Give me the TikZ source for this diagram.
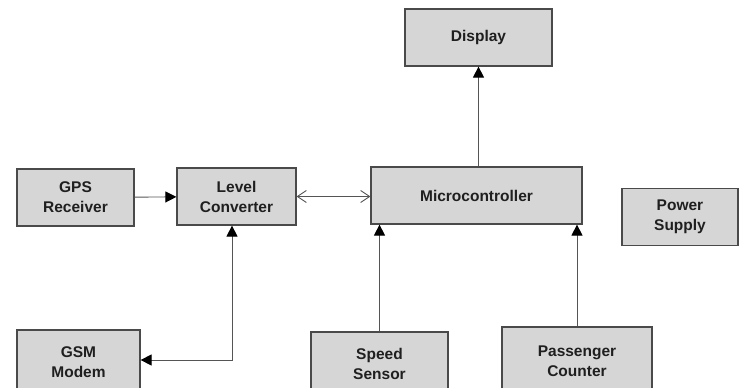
\documentclass[tikz,border=0pt]{standalone}
\usepackage{fontspec}
\setmainfont{Liberation Sans}
\usetikzlibrary{arrows.meta}
\definecolor{boxfill}{HTML}{D6D6D6}
\definecolor{boxline}{HTML}{4A4A4A}
\definecolor{wire}{HTML}{555555}
\begin{document}
\begin{tikzpicture}[x=1pt,y=-1pt,
  blk/.style={draw=boxline, line width=1.2pt, fill=boxfill, inner sep=0pt, align=center,
    font=\fontsize{15.5}{20}\selectfont\bfseries, text=black!88},
  wirel/.style={draw=wire, line width=0.9pt},
  tipA/.style={-{Triangle[length=11pt,width=11pt,color=black]}},
  opentip/.style={{Straight Barb[length=9pt,width=12pt]}-{Straight Barb[length=9pt,width=12pt]}}]
\useasboundingbox (0,0) rectangle (740,388);
\fill[white] (0,0) rectangle (740,388);
\clip (0,0) rectangle (740,388);
\node[blk, minimum width=117pt, minimum height=57pt] (gps) at (75.5,197.5) {GPS\\Receiver};
\node[blk, minimum width=119pt, minimum height=57pt] (lvl) at (236.5,196.5) {Level\\Converter};
\node[blk, minimum width=211pt, minimum height=57pt] (mcu) at (476.5,195.5) {Microcontroller};
\node[blk, minimum width=147pt, minimum height=57pt] (disp) at (478.5,37.5) {Display};
\node[blk, minimum width=116pt, minimum height=57pt] (pwr) at (680,217) {Power\\Supply};
\node[blk, minimum width=123pt, minimum height=64pt] (gsm) at (78.5,362) {GSM\\Modem};
\node[blk, minimum width=137pt, minimum height=64pt] (spd) at (379.5,364) {Speed\\Sensor};
\node[blk, minimum width=150pt, minimum height=68pt] (pas) at (577,361) {Passenger\\Counter};
\coordinate (corner) at (232,360);
\draw[wirel, tipA] (gps) -- (lvl);
\draw[wirel, opentip] (lvl.east) -- (mcu.west |- lvl.east);
\draw[wirel, tipA] (mcu.north -| disp.south) -- (disp.south);
\draw[wirel, tipA] (spd.north) -- (spd.north |- mcu.south);
\draw[wirel, tipA] (pas.north) -- (pas.north |- mcu.south);
\draw[wirel, {Triangle[length=11pt,width=11pt,color=black]}-{Triangle[length=11pt,width=11pt,color=black]}] (lvl.south -| corner) -- (corner) -- (gsm.east |- corner);
\end{tikzpicture}
\end{document}
